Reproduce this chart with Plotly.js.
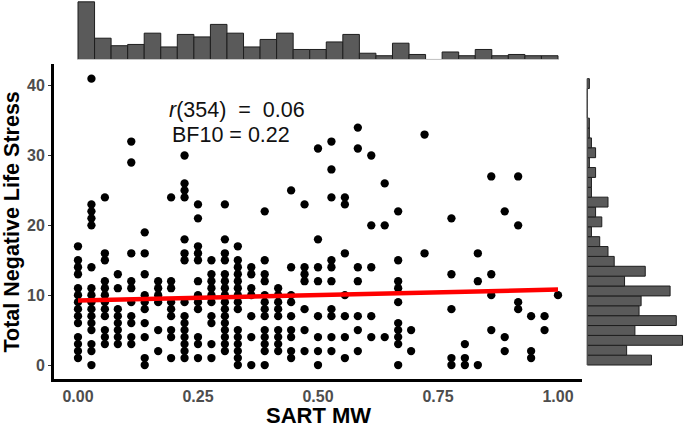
<!DOCTYPE html>
<html>
<head>
<meta charset="utf-8">
<script src="https://cdn.plot.ly/plotly-3.0.1.min.js"></script>
<style>
  html, body { margin: 0; padding: 0; background: #fff; }
  #chart { width: 685px; height: 427px; }
</style>
</head>
<body>
<div id="chart"></div>
<script>
// SART mind-wandering score for each column of points (x)
const sartMW = [0.000, 0.028, 0.056, 0.083, 0.111, 0.139, 0.167, 0.194, 0.222, 0.250,
  0.278, 0.306, 0.333, 0.361, 0.389, 0.417, 0.444, 0.472, 0.500, 0.528, 0.556, 0.583,
  0.611, 0.639, 0.667, 0.694, 0.722, 0.750, 0.778, 0.806, 0.833, 0.861, 0.889, 0.917,
  0.944, 0.972, 1.000];

// Total negative life stress values seen in each SART MW column
const stressAtMW = [
  [17, 15, 14, 13, 11, 10, 9, 8, 7, 6, 4, 3, 2, 1],
  [41, 23, 22, 21, 20, 14, 11, 10, 9, 8, 7, 6, 5, 3, 2, 0],
  [24, 16, 15, 12, 11, 10, 9, 8, 7, 5, 4, 3],
  [13, 11, 8, 7, 6, 5, 4, 3],
  [32, 29, 16, 12, 11, 9, 7, 6, 4, 3],
  [19, 16, 13, 10, 9, 8, 6, 4, 1, 0],
  [12, 11, 10, 9, 5, 2],
  [24, 12, 11, 9, 8, 7, 5, 4, 1],
  [30, 26, 25, 24, 18, 16, 15, 9, 7, 6, 5, 4, 3, 2, 1],
  [23, 21, 17, 16, 15, 12, 10, 9, 8, 4, 3, 1],
  [15, 13, 12, 11, 10, 9, 7, 6, 3, 1],
  [23, 18, 16, 15, 13, 12, 11, 10, 9, 8, 7, 6, 5, 4, 3, 2],
  [17, 15, 14, 13, 12, 11, 10, 9, 8, 5, 4, 3, 2, 1, 0],
  [14, 13, 11, 10, 7, 4, 0],
  [22, 15, 13, 12, 10, 9, 8, 7, 5, 4, 3, 2, 0],
  [11, 10, 9, 8, 7, 5, 4, 3, 2],
  [25, 14, 10, 9, 7, 5, 4, 2, 1],
  [23, 14, 13, 12, 8, 5, 2],
  [31, 18, 14, 12, 7, 4, 2, 0],
  [32, 28, 24, 15, 14, 12, 8, 7, 4, 2],
  [24, 23, 16, 10, 7, 4, 1],
  [34, 31, 14, 12, 7, 5, 2],
  [30, 20, 14, 7, 4],
  [26, 20, 4],
  [22, 15, 12, 11, 9, 6, 5, 4, 3, 0],
  [5, 2],
  [33, 16],
  [],
  [21, 13, 8, 1, 0],
  [3, 1, 0],
  [16, 12, 0],
  [27, 13, 10, 5],
  [22, 4, 2],
  [27, 20, 9, 8],
  [7, 2, 1],
  [7, 5],
  [10],
];

// linear fit
const fitX = [0, 1];
const fitY = [9.25, 10.8];

// marginal histograms (29 bins each)
const mwBinWidth = 1 / 29;
const mwCounts = [46, 17, 11, 12, 21, 10, 20, 18, 28, 21, 10, 16, 21, 8, 8, 14, 20, 5, 3, 13, 4, 0, 6, 3, 8, 3, 4, 3, 3];
const stressBinWidth = 41 / 29;
const stressCounts = [31, 19, 46, 23, 43, 25, 26, 40, 18, 28, 13, 10, 6, 2, 7, 4, 10, 2, 2, 4, 1, 4, 2, 1, 1, 0, 0, 0, 1];

const xTicks = [0, 0.25, 0.5, 0.75, 1];
const yTicks = [0, 10, 20, 30, 40];

const statLines = ['<i>r</i>(354)\u00A0 =\u00A0 0.06', 'BF10\u00A0= 0.22'];
const xTitle = 'SART MW';
const yTitle = 'Total Negative Life Stress';

const W = 685, H = 427;
const fx = (px) => px / W;
const fy = (py) => 1 - py / H;

const FONT = 'Liberation Sans, Arial, sans-serif';

const px = [], py = [];
sartMW.forEach((mw, i) => {
  stressAtMW[i].forEach((s) => {
    px.push(mw);
    py.push(s);
  });
});

const traces = [
  {
    type: 'scatter', mode: 'markers', x: px, y: py,
    marker: { size: 8.3, color: '#000000' },
    xaxis: 'x', yaxis: 'y', hoverinfo: 'skip',
  },
  {
    type: 'scatter', mode: 'lines', x: fitX, y: fitY,
    line: { color: '#ff0000', width: 4.5 },
    xaxis: 'x', yaxis: 'y', hoverinfo: 'skip',
  },
  {
    type: 'bar', y: mwCounts, x0: mwBinWidth / 2, dx: mwBinWidth, width: mwBinWidth,
    marker: { color: '#5a5a5a', line: { color: '#1e1e1e', width: 1 } },
    xaxis: 'x2', yaxis: 'y2', hoverinfo: 'skip',
  },
  {
    type: 'bar', orientation: 'h', x: stressCounts,
    y0: stressBinWidth / 2, dy: stressBinWidth, width: stressBinWidth,
    marker: { color: '#5a5a5a', line: { color: '#1e1e1e', width: 1 } },
    xaxis: 'x3', yaxis: 'y3', hoverinfo: 'skip',
  },
];

const mainDomainX = [fx(54), fx(582)];
const mainDomainY = [fy(379.35), fy(64.35)];

const layout = {
  width: W, height: H,
  margin: { l: 0, r: 0, t: 0, b: 0 },
  paper_bgcolor: '#ffffff',
  plot_bgcolor: 'rgba(0,0,0,0)',
  showlegend: false,
  bargap: 0,
  font: { family: FONT, color: '#000000' },
  xaxis: {
    domain: mainDomainX, anchor: 'y', range: [-0.05, 1.05],
    tickvals: xTicks, tickformat: '.2f',
    showgrid: false, zeroline: false,
    showline: true, linecolor: '#000000', linewidth: 3,
    ticks: '', ticklen: 0,
    tickfont: { family: FONT, size: 16, color: '#4d4d4d', weight: 'bold' },
  },
  yaxis: {
    domain: mainDomainY, anchor: 'x', range: [-2.05, 43.05],
    tickvals: yTicks,
    showgrid: false, zeroline: false,
    showline: true, linecolor: '#000000', linewidth: 3,
    ticks: 'outside', ticklen: 3, tickwidth: 1, tickcolor: '#333333',
    tickfont: { family: FONT, size: 16, color: '#4d4d4d', weight: 'bold' },
    title: { text: yTitle, font: { family: FONT, size: 21.5, color: '#000000', weight: 'bold' } },
  },
  xaxis2: { domain: mainDomainX, anchor: 'y2', range: [-0.05, 1.05], visible: false },
  yaxis2: { domain: [fy(62), 1], anchor: 'x2', range: [-2.0, 47.47], visible: false },
  xaxis3: { domain: [fx(585), 1], anchor: 'y3', range: [-1.11, 47.2], visible: false },
  yaxis3: { domain: mainDomainY, anchor: 'x3', range: [-2.05, 43.05], visible: false },
  shapes: [
    { type: 'line', xref: 'x2', yref: 'y2', x0: 0, x1: 1, y0: 0, y1: 0, line: { color: '#c8c8c8', width: 1 } },
    { type: 'line', xref: 'x3', yref: 'y3', x0: 0, x1: 0, y0: 0, y1: 41, line: { color: '#555555', width: 1 } },
  ],
  annotations: [
    {
      xref: 'paper', yref: 'paper', x: fx(168), y: fy(110.5), xanchor: 'left', yanchor: 'middle',
      text: statLines[0], showarrow: false, borderpad: 0,
      font: { family: FONT, size: 21.5, color: '#111111' },
    },
    {
      xref: 'paper', yref: 'paper', x: fx(171), y: fy(134.5), xanchor: 'left', yanchor: 'middle',
      text: statLines[1], showarrow: false, borderpad: 0,
      font: { family: FONT, size: 21.5, color: '#111111' },
    },
    {
      xref: 'x', yref: 'paper', x: 0.5, y: fy(415), xanchor: 'center', yanchor: 'middle',
      text: xTitle, showarrow: false, borderpad: 0,
      font: { family: FONT, size: 22, color: '#000000', weight: 'bold' },
    },
  ],
};

Plotly.newPlot('chart', traces, layout, { displayModeBar: false, staticPlot: true });
</script>
</body>
</html>
